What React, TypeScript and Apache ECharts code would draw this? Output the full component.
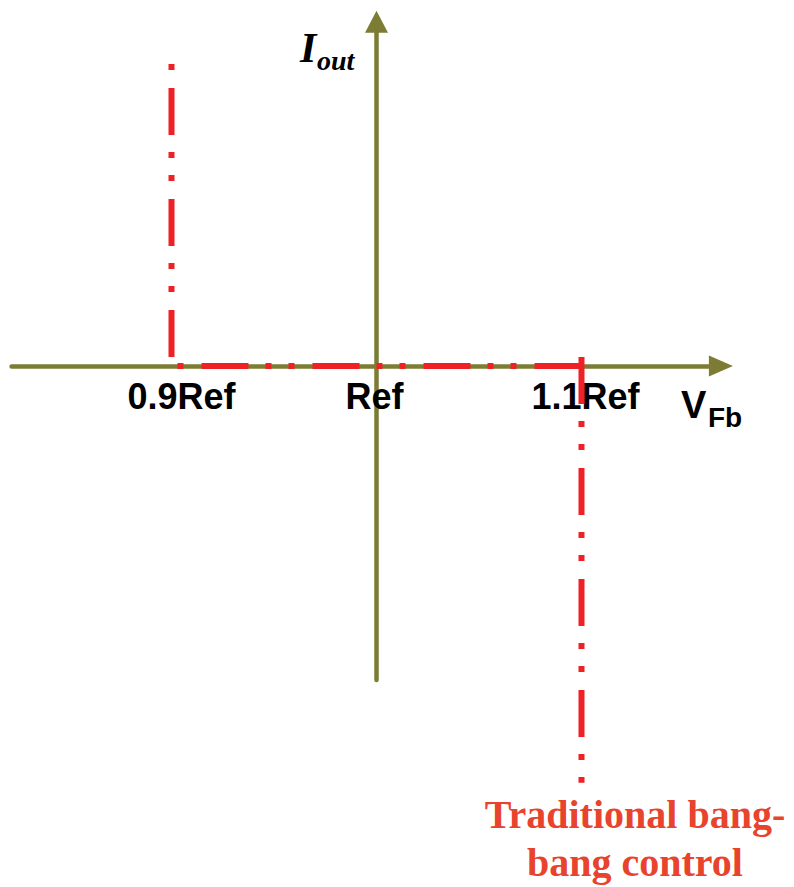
import React, { useEffect, useRef } from 'react';
import * as echarts from 'echarts';

// ---- data (V_Fb expressed as % deviation from Ref, I_out in relative units) ----
const xTickValues = [-10, 0, 10];
const xTickLabels = ['0.9Ref', 'Ref', '1.1Ref'];
const lowThresholdBranch = [[-10, 1.0], [-10, 0]];
const deadBandBranch = [[-10, 0], [10, 0]];
const highThresholdBranch = [[10, 0.03], [10, -1.38]];
const xAxisTitle = ['V', 'Fb'];
const yAxisTitle = ['I', 'out'];
const annotationLines = ['Traditional bang-', 'bang control'];

// ---- layout / style ----
const W = 794;
const H = 887;
const X_ZERO_PX = 376.5;
const PX_PER_X = 20.5;
const Y_ZERO_PX = 366;
const PX_PER_Y = 302;
const X_MIN = -17.8;
const X_MAX = 16.8;
const Y_MIN = -1.04;
const Y_MAX = 1.14;
const AXIS_COLOR = '#7D7C34';
const CURVE_COLOR = '#EE2226';
const NOTE_COLOR = '#E8432D';
const DASH = [47, 17, 6, 17, 6, 18];
const LABEL_GAP = 12;

const gridLeft = X_ZERO_PX + X_MIN * PX_PER_X;
const gridWidth = (X_MAX - X_MIN) * PX_PER_X;
const gridTop = Y_ZERO_PX - Y_MAX * PX_PER_Y;
const gridHeight = (Y_MAX - Y_MIN) * PX_PER_Y;
// labels are laid out from the grid's bottom edge; pull them up to the zero line
const labelMargin = Y_ZERO_PX + LABEL_GAP - (gridTop + gridHeight);

const labelFont = { fontFamily: '"Liberation Sans", Arial, sans-serif', fontWeight: 'bold' as const, fontSize: 36, color: '#000' };

function branch(data: number[][], offset: number) {
  return {
    type: 'line',
    data,
    symbol: 'none',
    showSymbol: false,
    clip: false,
    silent: true,
    z: 5,
    lineStyle: { color: CURVE_COLOR, width: 6, type: DASH, dashOffset: offset, cap: 'butt' },
  };
}

export default function App() {
  const ref = useRef<HTMLDivElement>(null);
  useEffect(() => {
    const chart = echarts.init(ref.current!, null, { renderer: 'svg' });
    const option: any = {
      animation: false,
      backgroundColor: '#fff',
      grid: { left: gridLeft, top: gridTop, width: gridWidth, height: gridHeight, containLabel: false },
      xAxis: {
        type: 'value',
        min: X_MIN,
        max: X_MAX,
        axisLine: {
          show: true,
          onZero: true,
          symbol: ['none', 'triangle'],
          symbolSize: [21, 24],
          lineStyle: { color: AXIS_COLOR, width: 4.5 },
        },
        axisTick: { show: false },
        splitLine: { show: false },
        axisLabel: {
          show: true,
          customValues: xTickValues,
          margin: labelMargin,
          ...labelFont,
          formatter: (v: number) => {
            const i = xTickValues.indexOf(v);
            return i < 0 ? '' : `{t${i}|${xTickLabels[i]}}`;
          },
          rich: {
            t0: { ...labelFont, padding: [0, 0, 0, 20] },
            t1: { ...labelFont, padding: [0, 4, 0, 0] },
            t2: { ...labelFont, padding: [0, 0, 0, 8] },
          },
        },
      },
      yAxis: {
        type: 'value',
        min: Y_MIN,
        max: Y_MAX,
        axisLine: {
          show: true,
          onZero: true,
          symbol: ['none', 'triangle'],
          symbolSize: [23, 22],
          lineStyle: { color: AXIS_COLOR, width: 4.5 },
        },
        axisTick: { show: false },
        splitLine: { show: false },
        axisLabel: { show: false },
      },
      series: [
        branch(lowThresholdBranch, 87),
        branch(deadBandBranch, 81),
        branch(highThresholdBranch, 0),
      ],
      graphic: [
        {
          type: 'text', x: 300, y: 48, silent: true,
          style: { text: yAxisTitle[0], fontFamily: '"Liberation Serif", "Times New Roman", serif', fontStyle: 'italic', fontWeight: 'bold', fontSize: 42, fill: '#000', align: 'left', verticalAlign: 'middle' },
        },
        {
          type: 'text', x: 317, y: 60.5, silent: true,
          style: { text: yAxisTitle[1], fontFamily: '"Liberation Serif", "Times New Roman", serif', fontStyle: 'italic', fontWeight: 'bold', fontSize: 28, fill: '#000', align: 'left', verticalAlign: 'middle' },
        },
        {
          type: 'text', x: 681, y: 405, silent: true,
          style: { text: xAxisTitle[0], fontFamily: '"Liberation Sans", Arial, sans-serif', fontWeight: 'bold', fontSize: 38, fill: '#000', align: 'left', verticalAlign: 'middle' },
        },
        {
          type: 'text', x: 708, y: 417, silent: true,
          style: { text: xAxisTitle[1], fontFamily: '"Liberation Sans", Arial, sans-serif', fontWeight: 'bold', fontSize: 28, fill: '#000', align: 'left', verticalAlign: 'middle' },
        },
        {
          type: 'text', x: 635, y: 790, silent: true,
          style: { text: annotationLines.join('\n'), fontFamily: '"Liberation Serif", "Times New Roman", serif', fontWeight: 'bold', fontSize: 40, lineHeight: 48, fill: NOTE_COLOR, align: 'center', verticalAlign: 'top' },
        },
      ],
    };
    chart.setOption(option);
    return () => chart.dispose();
  }, []);
  return <div ref={ref} style={{ position: 'fixed', left: 0, top: 0, width: W, height: H, background: '#fff' }} />;
}
